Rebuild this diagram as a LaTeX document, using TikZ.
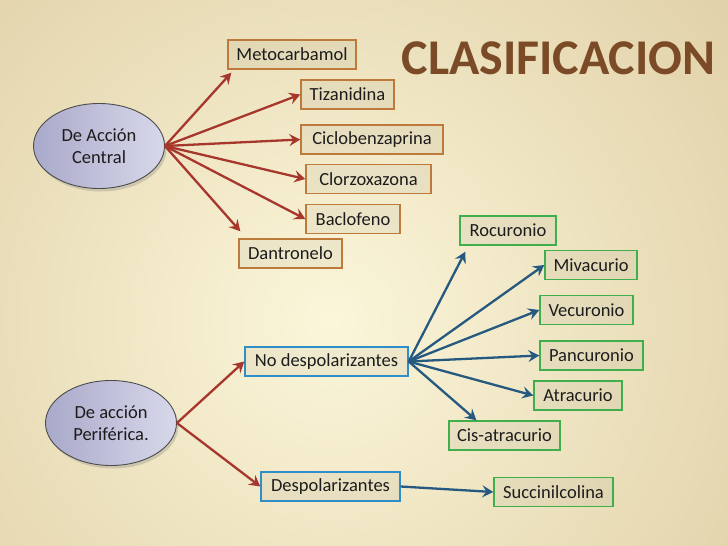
\documentclass[tikz,border=0pt]{standalone}
\usepackage{fontspec}
\setmainfont{Carlito}
\usetikzlibrary{arrows.meta,shadows,calc,shapes.geometric}
\definecolor{bgin}{HTML}{FBF6DA}
\definecolor{bgout}{HTML}{CDB582}
\definecolor{redarr}{HTML}{A7372D}
\definecolor{bluearr}{HTML}{26597F}
\definecolor{orbox}{HTML}{BE7A3A}
\definecolor{blbox}{HTML}{2E8FC8}
\definecolor{grbox}{HTML}{3FAE4C}
\definecolor{titlec}{HTML}{7B4A26}
\definecolor{ellL}{HTML}{A9A9CA}
\definecolor{ellR}{HTML}{D8D8EB}
\definecolor{txt}{HTML}{1C1C1C}
\begin{document}
\begin{tikzpicture}[x=1pt,y=-1pt,
  box/.style={draw,line width=1.4pt,fill=black,fill opacity=0.04,text opacity=1,
    minimum height=29pt,inner sep=0pt,font=\fontsize{18.5}{20}\selectfont,text=txt},
  obox/.style={box,draw=orbox},
  bbox/.style={box,draw=blbox},
  gbox/.style={box,draw=grbox},
  ell/.style={ellipse,draw=black!70,line width=0.9pt,left color=ellL,right color=ellR,
    minimum width=131pt,minimum height=85pt,inner sep=0pt,align=center,
    font=\fontsize{18.5}{22}\selectfont,text=txt,
    drop shadow={opacity=0.3,shadow xshift=2pt,shadow yshift=-3pt}},
  rarr/.style={draw=redarr,line width=2.3pt,-{Stealth[length=11pt,width=12pt,inset=4pt]}},
  barr/.style={draw=bluearr,line width=2.3pt,-{Stealth[length=11pt,width=12pt,inset=4pt]}}
]
\useasboundingbox (0,0) rectangle (728,546);
\begin{scope}
\clip (0,0) rectangle (728,546);
\shade[inner color=bgin,outer color=bgout] (330,320) circle (900);
\end{scope}
% title
\node[font=\fontsize{50}{52}\selectfont\bfseries,text=titlec] (title) at (558.5,58.5) {CLASIFICACION};
% ellipses
\node[ell] (central) at (99,146) {De Acción\\Central};
\node[ell] (perif) at (111,423) {De acción\\Periférica.};
% central boxes
\node[obox,minimum width=128pt] (meto) at (292,54.5) {Metocarbamol};
\node[obox,minimum width=93pt] (tiza) at (347.5,94.5) {Tizanidina};
\node[obox,minimum width=142pt] (ciclo) at (372,139.5) {Ciclobenzaprina};
\node[obox,minimum width=125pt] (clorzo) at (368.5,179) {Clorzoxazona};
\node[obox,minimum width=94pt] (baclo) at (353,219) {Baclofeno};
\node[obox,minimum width=103pt] (dantro) at (290.5,253.5) {Dantronelo};
% peripheral
\node[bbox,minimum width=163pt] (nodesp) at (326.5,361.5) {No despolarizantes};
\node[bbox,minimum width=139pt] (desp) at (330.5,486.5) {Despolarizantes};
\node[gbox,minimum width=96pt] (rocu) at (508,230.5) {Rocuronio};
\node[gbox,minimum width=92pt] (miva) at (591,265) {Mivacurio};
\node[gbox,minimum width=93pt] (vecu) at (586.5,310) {Vecuronio};
\node[gbox,minimum width=103pt] (panc) at (591.5,355.5) {Pancuronio};
\node[gbox,minimum width=88pt] (atra) at (578,395.5) {Atracurio};
\node[gbox,minimum width=111pt] (cis) at (504.5,435.5) {Cis-atracurio};
\node[gbox,minimum width=119pt] (succ) at (553.5,492) {Succinilcolina};
% arrows central
\draw[rarr] (central.east) -- ($(meto.south west)+(4,3)$);
\draw[rarr] (central.east) -- (tiza.west);
\draw[rarr] (central.east) -- (ciclo.west);
\draw[rarr] (central.east) -- (clorzo.west);
\draw[rarr] (central.east) -- (baclo.west);
\draw[rarr] (central.east) -- ($(dantro.north west)+(2,-7)$);
% arrows peripheral
\draw[rarr] (perif.east) -- (nodesp.west);
\draw[rarr] (perif.east) -- (desp.west);
\draw[barr] (nodesp.east) -- ($(rocu.south west)+(6,6)$);
\draw[barr] (nodesp.east) -- (miva.west);
\draw[barr] (nodesp.east) -- (vecu.west);
\draw[barr] (nodesp.east) -- (panc.west);
\draw[barr] (nodesp.east) -- (atra.west);
\draw[barr] (nodesp.east) -- ($(cis.north west)!0.25!(cis.north east)$);
\draw[barr] (desp.east) -- (succ.west);
\end{tikzpicture}
\end{document}
